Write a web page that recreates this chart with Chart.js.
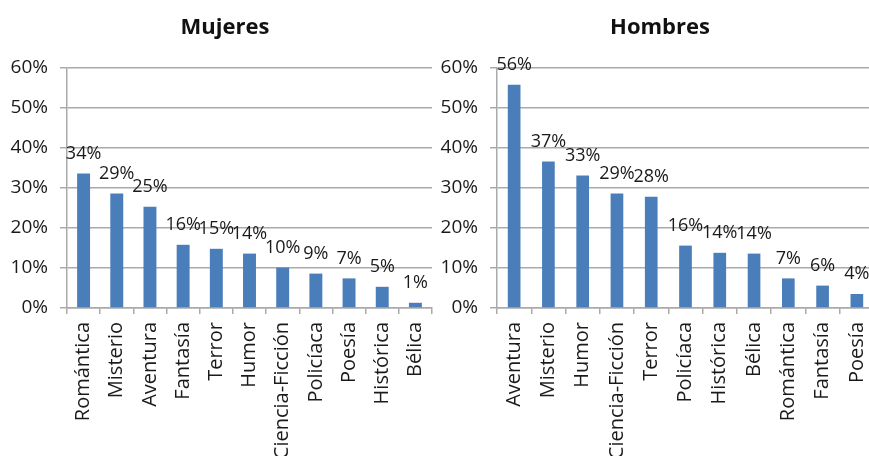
<!DOCTYPE html>
<html>
<head>
<meta charset="utf-8">
<script src="https://cdn.jsdelivr.net/npm/chart.js@4"></script>
<style>
  html, body { margin: 0; padding: 0; background: #fff; overflow: hidden; width: 869px; height: 456px; }
  canvas { position: absolute; top: 0; }
  #left { left: 0; }
  #right { left: 430px; }
  .titulo {
    position: absolute; top: 10px; width: 200px; text-align: center;
    font: bold 22px 'Open Sans', 'Noto Sans', sans-serif; color: #111; line-height: 30px;
  }
</style>
</head>
<body>
<canvas id="left" width="452" height="456"></canvas>
<canvas id="right" width="460" height="456"></canvas>
<div class="titulo" id="t_left" style="left:125px"></div>
<div class="titulo" id="t_right" style="left:560px"></div>
<script>
var titulo_mujeres = "Mujeres";
var titulo_hombres = "Hombres";

var generos_mujeres = ["Romántica", "Misterio", "Aventura", "Fantasía", "Terror", "Humor", "Ciencia-Ficción", "Policíaca", "Poesía", "Histórica", "Bélica"];
var valores_mujeres = [33.6, 28.6, 25.3, 15.8, 14.8, 13.6, 10.1, 8.6, 7.4, 5.3, 1.3];

var generos_hombres = ["Aventura", "Misterio", "Humor", "Ciencia-Ficción", "Terror", "Policíaca", "Histórica", "Bélica", "Romántica", "Fantasía", "Poesía"];
var valores_hombres = [55.8, 36.6, 33.1, 28.6, 27.8, 15.6, 13.8, 13.6, 7.4, 5.6, 3.5];

var y_ticks = [0, 10, 20, 30, 40, 50, 60];

var font_family = "'Open Sans', 'Noto Sans', sans-serif";
var grid_color = "#aaaaaa";
var bar_color = "#4a7ebb";

document.getElementById("t_left").textContent = titulo_mujeres;
document.getElementById("t_right").textContent = titulo_hombres;

// draws the value above every bar
var etiquetas = {
  id: 'etiquetas',
  afterDatasetsDraw: function(chart) {
    var ctx = chart.ctx;
    var meta = chart.getDatasetMeta(0);
    var data = chart.data.datasets[0].data;
    ctx.save();
    ctx.font = "18px " + font_family;
    ctx.fillStyle = "#1a1a1a";
    ctx.textAlign = "center";
    ctx.textBaseline = "middle";
    meta.data.forEach(function(bar, i) {
      ctx.fillText(Math.round(data[i]) + "%", bar.x, bar.y - 20);
    });
    ctx.restore();
  }
};

function make_chart(id, labels, valores, ancho_barra, pad_right) {
  var ctx = document.getElementById(id).getContext("2d");
  return new Chart(ctx, {
    type: "bar",
    data: {
      labels: labels,
      datasets: [{
        data: valores,
        backgroundColor: bar_color,
        borderWidth: 0,
        barPercentage: ancho_barra,
        categoryPercentage: 1.0
      }]
    },
    plugins: [etiquetas],
    options: {
      responsive: false,
      animation: false,
      layout: { padding: { left: 0, right: pad_right, top: 68, bottom: 0 } },
      plugins: {
        legend: { display: false },
        tooltip: { enabled: false },
        title: { display: false }
      },
      scales: {
        y: {
          min: 0,
          max: 60,
          afterFit: function(scale) { scale.width = 67; },
          afterBuildTicks: function(scale) {
            scale.ticks = y_ticks.map(function(v) { return { value: v }; });
          },
          border: { display: true, color: grid_color, width: 1.5 },
          grid: {
            color: grid_color,
            lineWidth: 1.5,
            drawTicks: true,
            tickLength: 7
          },
          ticks: {
            padding: 12,
            color: "#1a1a1a",
            font: { size: 19, family: font_family },
            callback: function(v) { return v + "%"; }
          }
        },
        x: {
          afterFit: function(scale) { scale.height = 148; },
          border: { display: true, color: grid_color, width: 1.5 },
          grid: {
            display: true,
            offset: true,
            drawOnChartArea: false,
            drawTicks: true,
            tickLength: 6,
            color: grid_color,
            lineWidth: 1.5
          },
          ticks: {
            autoSkip: false,
            maxRotation: 90,
            minRotation: 90,
            padding: 8,
            color: "#1a1a1a",
            font: { size: 20, family: font_family }
          }
        }
      }
    }
  });
}

make_chart("left", generos_mujeres, valores_mujeres, 0.39, 20);
make_chart("right", generos_hombres, valores_hombres, 0.37, 16);
</script>
</body>
</html>
